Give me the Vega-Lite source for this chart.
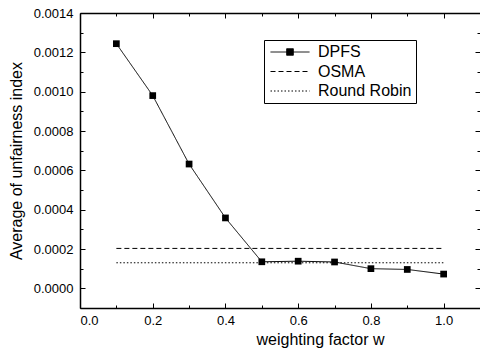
{
  "$schema": "https://vega.github.io/schema/vega-lite/v6.json",
  "width": 400,
  "height": 295,
  "autosize": "none",
  "padding": {"left": 80, "top": 13, "right": 0, "bottom": 46},
  "background": "white",
  "config": {
    "view": {"stroke": null},
    "font": "Liberation Sans",
    "axis": {
      "grid": false,
      "domainColor": "black",
      "domainWidth": 1.5,
      "tickColor": "black",
      "tickWidth": 1,
      "labelColor": "black",
      "titleColor": "black",
      "labelFont": "Liberation Sans",
      "titleFont": "Liberation Sans",
      "labelFontSize": 13,
      "titleFontSize": 16,
      "titleFontWeight": "normal"
    }
  },
  "data": {
    "values": [
      {"w": 0.1, "v": 0.001244, "series": "DPFS"},
      {"w": 0.2, "v": 0.00098, "series": "DPFS"},
      {"w": 0.3, "v": 0.000632, "series": "DPFS"},
      {"w": 0.4, "v": 0.000358, "series": "DPFS"},
      {"w": 0.5, "v": 0.000135, "series": "DPFS"},
      {"w": 0.6, "v": 0.000138, "series": "DPFS"},
      {"w": 0.7, "v": 0.000134, "series": "DPFS"},
      {"w": 0.8, "v": 0.0001, "series": "DPFS"},
      {"w": 0.9, "v": 0.000096, "series": "DPFS"},
      {"w": 1.0, "v": 0.0000725, "series": "DPFS"},
      {"w": 0.1, "v": 0.000203, "series": "OSMA"},
      {"w": 1.0, "v": 0.000203, "series": "OSMA"},
      {"w": 0.1, "v": 0.00013, "series": "Round Robin"},
      {"w": 1.0, "v": 0.00013, "series": "Round Robin"}
    ]
  },
  "resolve": {"axis": {"x": "independent", "y": "independent"}},
  "layer": [
    {
      "transform": [{"filter": "datum.series === 'DPFS'"}],
      "mark": {"type": "line", "color": "black", "strokeWidth": 1},
      "encoding": {
        "x": {"field": "w", "type": "quantitative",
          "scale": {"domain": [0, 1.1], "nice": false, "zero": false},
          "axis": {"orient": "bottom", "values": [0, 0.2, 0.4, 0.6, 0.8, 1.0], "format": ".1f",
            "tickSize": -5, "labelPadding": 11, "title": "weighting factor w", "titleX": 240, "titlePadding": 4}},
        "y": {"field": "v", "type": "quantitative",
          "scale": {"domain": [-0.0001, 0.0014], "nice": false, "zero": false},
          "axis": {"orient": "left", "values": [0, 0.0002, 0.0004, 0.0006, 0.0008, 0.001, 0.0012, 0.0014], "format": ".4f",
            "tickSize": -5, "labelPadding": 12, "title": "Average of unfairness index", "titleFontSize": 16, "titlePadding": 9}},
        "strokeDash": {"field": "series", "type": "nominal",
          "scale": {"domain": ["DPFS", "OSMA", "Round Robin"], "range": [[1, 0], [5, 3], [1.5, 2]]},
          "legend": {
            "orient": "none", "legendX": 184, "legendY": 27, "title": null,
            "strokeColor": "black", "padding": 4,
            "symbolSize": 144, "symbolOffset": 14, "symbolStrokeColor": "black", "symbolStrokeWidth": 1,
            "labelFont": "Liberation Sans", "labelFontSize": 16, "labelColor": "black", "labelOffset": 20,
            "rowPadding": 3.5, "labelLimit": 200,
            "encode": {"symbols": {"update": {
              "shape": {"signal": "datum.value === 'DPFS' ? 'M-3.25,0H3.25M-0.55,-0.55H0.55V0.55H-0.55Z' : 'M-3.25,0H3.25'"},
              "fill": {"value": "black"},
              "stroke": {"value": "black"}
            }}}
          }}
      }
    },
    {
      "transform": [{"filter": "datum.series === 'DPFS'"}],
      "mark": {"type": "point", "shape": "square", "filled": true, "color": "black", "size": 45, "opacity": 1},
      "encoding": {
        "x": {"field": "w", "type": "quantitative",
          "axis": {"orient": "top", "values": [0, 0.2, 0.4, 0.6, 0.8, 1.0], "labels": false, "tickSize": -5, "title": null}},
        "y": {"field": "v", "type": "quantitative",
          "axis": {"orient": "right", "values": [0, 0.0002, 0.0004, 0.0006, 0.0008, 0.001, 0.0012], "labels": false, "domain": false, "tickSize": -5, "title": null}}
      }
    },
    {
      "transform": [{"filter": "datum.series === 'OSMA'"}],
      "mark": {"type": "line", "color": "black", "strokeWidth": 1},
      "encoding": {
        "x": {"field": "w", "type": "quantitative",
          "axis": {"orient": "bottom", "values": [0.1, 0.3, 0.5, 0.7, 0.9], "labels": false, "domain": false, "tickSize": -3, "title": null}},
        "y": {"field": "v", "type": "quantitative",
          "axis": {"orient": "left", "values": [-0.0001, 0.0001, 0.0003, 0.0005, 0.0007, 0.0009, 0.0011, 0.0013], "labels": false, "domain": false, "tickSize": -3, "title": null}},
        "strokeDash": {"field": "series", "type": "nominal"}
      }
    },
    {
      "transform": [{"filter": "datum.series === 'Round Robin'"}],
      "mark": {"type": "line", "color": "black", "strokeWidth": 1},
      "encoding": {
        "x": {"field": "w", "type": "quantitative",
          "axis": {"orient": "top", "values": [0.1, 0.3, 0.5, 0.7, 0.9], "labels": false, "domain": false, "tickSize": -3, "title": null}},
        "y": {"field": "v", "type": "quantitative",
          "axis": {"orient": "right", "values": [-0.0001, 0.0001, 0.0003, 0.0005, 0.0007, 0.0009, 0.0011, 0.0013], "labels": false, "domain": false, "tickSize": -3, "title": null}},
        "strokeDash": {"field": "series", "type": "nominal"}
      }
    }
  ]
}
